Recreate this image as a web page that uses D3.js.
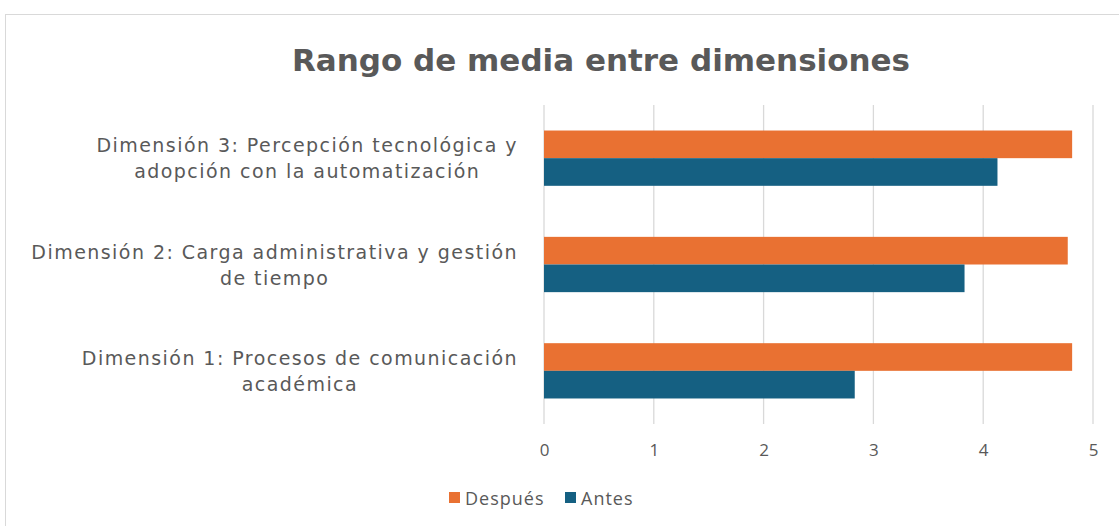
<!doctype html>
<html lang="es">
<head>
  <meta charset="utf-8">
  <style>
    body { margin: 0; background: #fff; }
    svg { display: block; }
    .title { font: bold 31px "DejaVu Sans", sans-serif; fill: #595959; }
    .cat { font: 19px "DejaVu Sans", sans-serif; fill: #595959; letter-spacing: 1.45px; }
    .tick text { font: 17px "Open Sans", sans-serif; fill: #595959; }
    .legend text { font: 18px "Open Sans", sans-serif; fill: #595959; letter-spacing: 1px; }
  </style>
  <script src="https://d3js.org/d3.v7.min.js"></script>
</head>
<body>
<script>
// data
const categories = [
  "Dimensión 3: Percepción tecnológica y|adopción con la automatización",
  "Dimensión 2: Carga administrativa y gestión|de tiempo",
  "Dimensión 1: Procesos de comunicación|académica"
];
const seriesNames = ["Después", "Antes"];
const despues = [4.81, 4.77, 4.81];
const antes = [4.13, 3.83, 2.83];
const xTicks = [0, 1, 2, 3, 4, 5];
const colors = ["#E97132", "#156082"];

const W = 1119, H = 526;
const margin = { top: 105, right: 26, bottom: 102, left: 544 };
const width = W - margin.left - margin.right;
const height = H - margin.top - margin.bottom;

const svg = d3.select("body").append("svg")
  .attr("width", W)
  .attr("height", H);

// chart frame
svg.append("rect")
  .attr("x", 5.5).attr("y", 14.5)
  .attr("width", W + 10).attr("height", H + 10)
  .attr("fill", "#fff")
  .attr("stroke", "#d9d9d9");

svg.append("text")
  .attr("class", "title")
  .attr("x", 601)
  .attr("y", 71)
  .attr("text-anchor", "middle")
  .text("Rango de media entre dimensiones");

const g = svg.append("g")
  .attr("transform", `translate(${margin.left},${margin.top})`);

const x = d3.scaleLinear().domain([0, 5]).range([0, width]);
const y = d3.scaleBand().domain(categories).range([0, height]).paddingInner(0.48).paddingOuter(0.24);
const ySub = d3.scaleBand().domain(seriesNames).range([0, y.bandwidth()]);

// gridlines
g.append("g")
  .selectAll("line")
  .data(xTicks)
  .join("line")
  .attr("x1", d => x(d)).attr("x2", d => x(d))
  .attr("y1", 0).attr("y2", height)
  .attr("stroke", "#d9d9d9")
  .attr("stroke-width", 1.3);

const xAxis = g.append("g")
  .attr("transform", `translate(0,${height})`)
  .call(d3.axisBottom(x).tickValues(xTicks).tickSize(0).tickPadding(20).tickFormat(d3.format("d")));
xAxis.select(".domain").remove();

const rows = categories.map((c, i) => ({ cat: c, vals: [despues[i], antes[i]] }));

const grp = g.selectAll(".row")
  .data(rows)
  .join("g")
  .attr("class", "row")
  .attr("transform", d => `translate(0,${y(d.cat)})`);

grp.selectAll("rect")
  .data(d => d.vals.map((v, j) => ({ name: seriesNames[j], v, j })))
  .join("rect")
  .attr("x", 0)
  .attr("y", d => ySub(d.name))
  .attr("width", d => x(d.v))
  .attr("height", ySub.bandwidth())
  .attr("fill", d => colors[d.j]);

// category labels, two lines, block right aligned and lines centred
const labelRight = 518;
rows.forEach(r => {
  const lines = r.cat.split("|");
  const cy = y(r.cat) + y.bandwidth() / 2;
  const t = svg.append("g");
  const texts = lines.map((ln, k) => t.append("text")
    .attr("class", "cat")
    .attr("y", margin.top + cy + (k - (lines.length - 1) / 2) * 26 + 7)
    .attr("text-anchor", "middle")
    .text(ln));
  const maxW = d3.max(texts, s => s.node().getComputedTextLength());
  texts.forEach(s => s.attr("x", labelRight - maxW / 2));
});

// legend
const legend = svg.append("g").attr("class", "legend");
const legendX = [449, 565];
seriesNames.forEach((n, i) => {
  legend.append("rect")
    .attr("x", legendX[i]).attr("y", 492)
    .attr("width", 11).attr("height", 11)
    .attr("fill", colors[i]);
  legend.append("text")
    .attr("x", legendX[i] + 16).attr("y", 505)
    .text(n);
});
</script>
</body>
</html>
